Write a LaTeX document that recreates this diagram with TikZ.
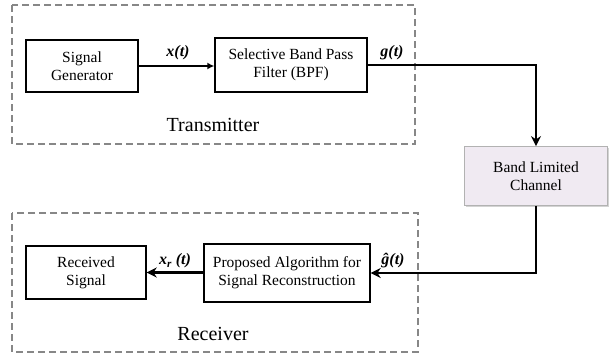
\documentclass[tikz,border=0pt]{standalone}
\usepackage{fontspec}
\setmainfont{Liberation Serif}
\usetikzlibrary{arrows.meta,shadows}
\definecolor{chfill}{RGB}{240,234,242}
\definecolor{dgray}{RGB}{135,135,135}
\begin{document}
\begin{tikzpicture}[x=1pt,y=-1pt,
  blockbox/.style={draw=black,line width=1.4pt,fill=white,align=center,font=\fontsize{15.5}{18}\selectfont,inner sep=0pt},
  group/.style={draw=dgray,line width=1.8pt,dash pattern=on 7pt off 4pt},
  arr/.style={line width=2.6pt,-{Stealth[length=10pt,width=10pt]}},
  sig/.style={font=\fontsize{16}{18}\selectfont\bfseries\itshape},
  grouplabel/.style={font=\fontsize{20}{22}\selectfont}]
\useasboundingbox (0,0) rectangle (609,360);
\draw[group] (12,5) rectangle (415,144);
\draw[group] (12,213) rectangle (418,352);
\node[blockbox,minimum width=112pt,minimum height=52pt] (sg) at (82,66) {Signal\\Generator};
\node[blockbox,minimum width=152pt,minimum height=54pt] (bpf) at (291,65) {Selective Band Pass\\Filter (BPF)};
\node[blockbox,draw=gray!60,fill=chfill,line width=0.8pt,drop shadow={opacity=0.35,shadow xshift=1.5pt,shadow yshift=-1.5pt},minimum width=143pt,minimum height=59pt] (ch) at (536,176) {Band Limited\\Channel};
\node[blockbox,minimum width=120pt,minimum height=53pt] (rs) at (86,272.5) {Received\\Signal};
\node[blockbox,minimum width=166pt,minimum height=58pt] (pa) at (287,273) {Proposed Algorithm for\\Signal Reconstruction};
\node[grouplabel] (tx) at (213,125) {Transmitter};
\node[grouplabel] (rx) at (213,334) {Receiver};
\draw[line width=2.6pt,-{Latex[length=7pt,width=7pt]}] (sg.east |- 0,66) coordinate (a1) -- (bpf.west |- a1);
\draw[arr] (bpf.east) -| (ch.north);
\draw[arr] (ch.south) |- (pa.east);
\draw[arr] (pa.west |- rs.east) -- (rs.east);
\node[sig] (lx) at (178,53) {x(t)};
\node[sig] (lg) at (392,53) {g(t)};
\node[sig] (lxr) at (175,261) {x\textsubscript{r} (t)};
\node[sig] (lgh) at (393,261) {ĝ(t)};
\end{tikzpicture}
\end{document}
